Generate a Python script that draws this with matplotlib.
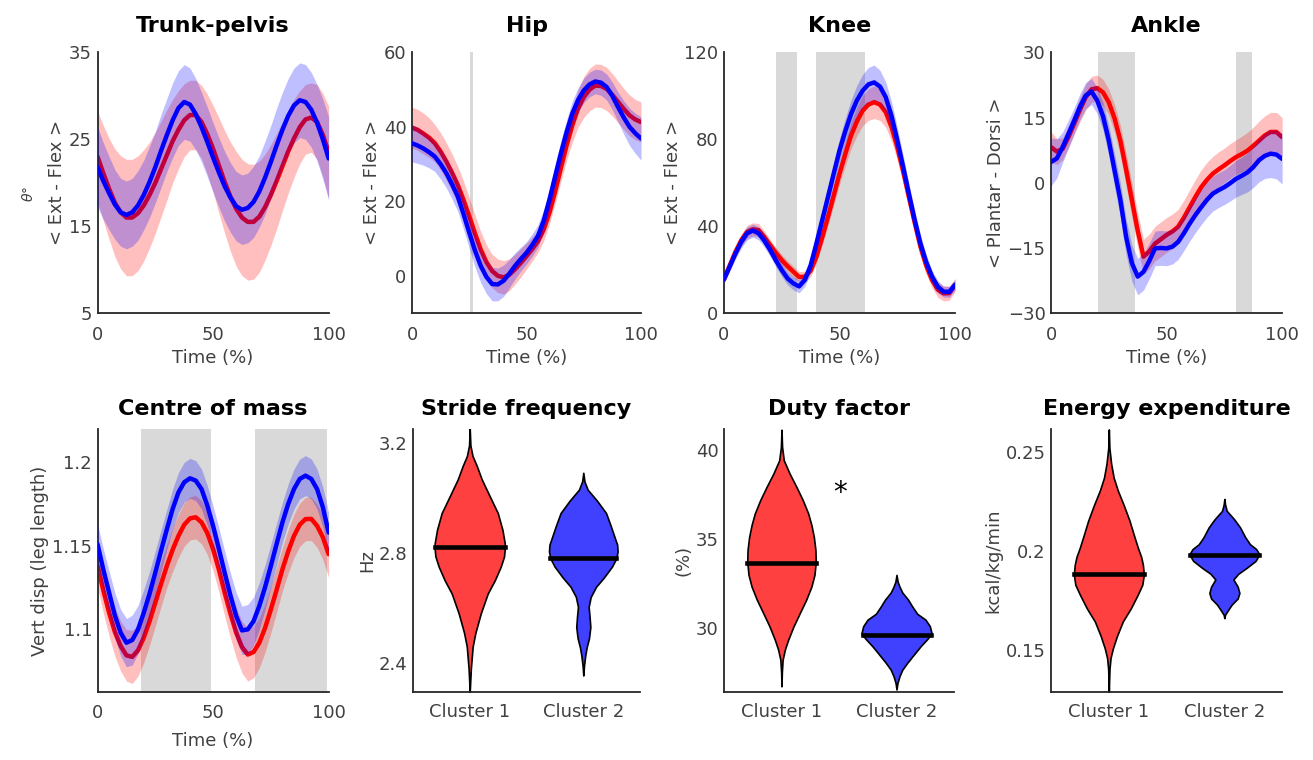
import numpy as np
import matplotlib.pyplot as plt

plt.rcParams['font.family'] = ['DejaVu Sans']

# ---------------- data ----------------
# % of stride, every 2.5 %
time = [0, 2.5, 5, 7.5, 10, 12.5, 15, 17.5, 20, 22.5, 25, 27.5, 30, 32.5, 35, 37.5, 40,
        42.5, 45, 47.5, 50, 52.5, 55, 57.5, 60, 62.5, 65, 67.5, 70, 72.5, 75, 77.5, 80,
        82.5, 85, 87.5, 90, 92.5, 95, 97.5, 100]

trunk_c1 = [23.0, 21.1, 19.3, 17.7, 16.6, 16.0, 16.0, 16.5, 17.4, 18.6, 20.0, 21.6, 23.2, 24.8,
            26.1, 27.2, 27.8, 27.8, 27.0, 25.6, 23.9, 22.0, 20.1, 18.4, 17.0, 16.0, 15.5, 15.5,
            16.1, 17.2, 18.6, 20.2, 21.9, 23.6, 25.1, 26.4, 27.3, 27.5, 27.0, 25.5, 23.5]
trunk_c1_sd = [5.2, 5.5, 5.8, 6.2, 6.5, 6.7, 6.7, 6.6, 6.4, 6.1, 5.8, 5.5, 5.2, 4.8, 4.5, 4.2,
               4.0, 4.0, 4.2, 4.6, 5.0, 5.5, 5.9, 6.3, 6.6, 6.7, 6.7, 6.6, 6.4, 6.1, 5.8, 5.5,
               5.1, 4.8, 4.5, 4.2, 4.0, 4.0, 4.3, 4.8, 5.3]
trunk_c2 = [21.8, 20.2, 18.8, 17.5, 16.6, 16.3, 16.6, 17.4, 18.6, 20.1, 21.8, 23.7, 25.5, 27.2,
            28.6, 29.3, 29.0, 27.9, 26.4, 24.7, 22.9, 21.2, 19.6, 18.3, 17.3, 16.9, 17.1, 17.8,
            19.0, 20.6, 22.4, 24.3, 26.1, 27.7, 28.9, 29.5, 29.3, 28.4, 26.9, 25.0, 22.8]
trunk_c2_sd = [4.6, 4.4, 4.2, 4.0, 3.9, 3.9, 3.9, 4.0, 4.0, 4.1, 4.1, 4.2, 4.2, 4.3, 4.3, 4.3,
               4.2, 4.1, 4.0, 4.0, 4.0, 4.0, 4.0, 4.0, 4.0, 4.0, 4.0, 4.1, 4.1, 4.2, 4.2, 4.3,
               4.3, 4.3, 4.3, 4.3, 4.3, 4.3, 4.4, 4.6, 4.8]

hip_c1 = [39.8, 39.2, 38.2, 37.1, 35.6, 33.4, 30.7, 27.7, 24.4, 20.4, 16.0, 11.4, 7.1, 3.7,
          1.3, 0.0, -0.4, 0.3, 1.8, 3.5, 5.3, 7.2, 9.3, 12.4, 16.9, 22.6, 28.9, 35.0, 40.4,
          44.9, 48.0, 50.0, 51.1, 51.0, 50.2, 48.6, 46.7, 44.8, 43.1, 42.0, 41.3]
hip_c1_sd = [5.5, 5.5, 5.5, 5.3, 5.0, 5.0, 5.0, 5.0, 5.0, 5.0, 5.0, 4.9, 4.8, 4.6, 4.5, 4.5,
             4.5, 4.3, 4.0, 3.8, 3.5, 3.2, 3.0, 3.0, 3.0, 3.2, 3.5, 4.0, 4.5, 5.0, 5.5, 5.7,
             5.8, 5.8, 5.8, 5.7, 5.6, 5.5, 5.5, 5.4, 5.4]
hip_c2 = [35.6, 35.0, 34.2, 33.2, 32.0, 30.0, 27.6, 24.6, 21.3, 16.6, 11.6, 6.8, 2.7, -0.3,
          -2.2, -2.3, -1.3, 0.6, 2.7, 4.5, 6.2, 8.3, 10.7, 14.8, 20.4, 26.7, 32.9, 38.6, 43.6,
          47.2, 49.8, 51.4, 52.2, 51.9, 50.7, 48.3, 45.3, 42.5, 40.0, 38.3, 36.9]
hip_c2_sd = [5.0, 4.8, 4.5, 4.2, 4.0, 4.0, 4.0, 4.0, 4.0, 4.1, 4.2, 4.4, 4.5, 4.5, 4.5, 4.4,
             4.2, 3.8, 3.5, 3.2, 3.0, 3.0, 3.0, 3.0, 3.0, 3.1, 3.2, 3.3, 3.3, 3.3, 3.3, 3.3,
             3.3, 3.4, 3.5, 3.7, 4.0, 4.5, 5.0, 5.4, 5.8]

knee_c1 = [15.6, 22.0, 28.3, 33.6, 37.4, 38.6, 38.2, 35.0, 31.3, 27.7, 24.4, 21.6, 19.1, 16.6,
           16.8, 19.5, 26.0, 34.8, 44.3, 54.2, 64.2, 73.3, 81.8, 88.2, 93.2, 96.0, 97.1, 96.0,
           92.5, 85.6, 76.4, 65.5, 53.5, 41.8, 30.6, 21.9, 15.3, 10.8, 9.1, 9.2, 13.0]
knee_c1_sd = [2.0, 2.2, 2.5, 2.8, 3.0, 3.0, 3.0, 2.8, 2.5, 2.5, 2.5, 2.5, 2.5, 2.5, 2.5, 2.8,
              3.0, 3.5, 4.0, 4.5, 5.0, 5.5, 6.0, 6.5, 7.0, 7.3, 7.5, 7.3, 7.0, 6.5, 6.0, 5.5,
              5.0, 4.5, 4.0, 3.8, 3.5, 3.5, 3.5, 3.3, 3.0]
knee_c2 = [15.6, 21.5, 27.5, 32.8, 36.7, 38.0, 36.7, 33.3, 29.0, 24.2, 19.8, 16.0, 13.7, 12.3,
           15.3, 22.0, 32.1, 42.8, 53.5, 64.3, 74.9, 83.8, 91.7, 97.9, 102.4, 105.3, 106.2,
           104.3, 99.4, 90.8, 79.5, 67.4, 55.0, 43.0, 32.1, 23.5, 16.8, 12.2, 9.9, 9.8, 13.0]
knee_c2_sd = [2.0, 2.2, 2.5, 2.8, 3.0, 3.0, 3.0, 3.0, 3.0, 3.0, 3.0, 3.0, 3.0, 3.0, 3.0, 3.2,
              3.5, 4.0, 4.5, 5.0, 5.5, 6.0, 6.5, 7.0, 7.5, 7.8, 8.0, 7.5, 7.0, 6.5, 6.0, 5.5,
              5.0, 4.5, 4.0, 3.5, 3.0, 2.8, 2.5, 2.5, 2.5]

ankle_c1 = [8.2, 7.2, 7.8, 10.5, 13.6, 16.8, 19.7, 21.5, 21.8, 20.8, 18.5, 14.8, 9.7, 3.0,
            -4.0, -11.0, -17.0, -15.8, -14.0, -13.0, -12.0, -11.2, -10.1, -8.0, -5.6, -3.2,
            -1.0, 0.7, 2.1, 3.1, 4.0, 5.0, 5.9, 6.6, 7.4, 8.5, 9.7, 10.9, 11.7, 11.7, 10.5]
ankle_c1_sd = [3.5, 3.0, 2.5, 2.5, 2.5, 2.8, 3.0, 3.0, 3.0, 3.0, 3.0, 3.2, 3.5, 3.8, 4.0, 4.0,
               4.0, 4.0, 4.0, 4.0, 4.0, 4.0, 4.0, 4.0, 4.0, 4.0, 4.0, 4.0, 4.0, 4.0, 4.0, 4.0,
               4.0, 4.1, 4.2, 4.3, 4.5, 4.5, 4.5, 4.5, 4.5]
ankle_c2 = [4.8, 5.6, 8.2, 11.2, 14.3, 17.5, 20.1, 21.0, 18.9, 15.3, 9.7, 2.8, -4.0, -12.5,
            -18.5, -21.6, -20.5, -18.0, -15.1, -15.0, -15.1, -14.7, -13.6, -11.6, -9.4, -7.4,
            -5.6, -3.9, -2.5, -1.7, -1.0, -0.1, 0.9, 1.6, 2.4, 3.6, 5.2, 6.2, 6.7, 6.5, 5.5]
ankle_c2_sd = [5.5, 4.5, 3.5, 3.2, 3.0, 3.0, 3.0, 3.0, 3.0, 3.2, 3.5, 3.8, 4.0, 4.1, 4.2, 4.2,
               4.2, 4.1, 4.0, 4.0, 4.0, 4.0, 4.0, 4.0, 4.0, 4.0, 4.0, 4.0, 4.0, 4.0, 4.0, 4.1,
               4.2, 4.3, 4.5, 4.7, 5.0, 5.2, 5.5, 5.6, 5.8]

com_c1 = [1.1378, 1.1230, 1.1096, 1.0980, 1.0896, 1.0840, 1.0831, 1.0870, 1.0946, 1.1045,
          1.1157, 1.1270, 1.1378, 1.1475, 1.1558, 1.1625, 1.1663, 1.1670, 1.1639, 1.1575,
          1.1478, 1.1355, 1.1217, 1.1090, 1.0976, 1.0890, 1.0845, 1.0860, 1.0916, 1.1005,
          1.1116, 1.1235, 1.1357, 1.1465, 1.1558, 1.1625, 1.1659, 1.1660, 1.1618, 1.1550, 1.1448]
com_c1_sd = [0.013, 0.0135, 0.014, 0.0145, 0.015, 0.0155, 0.016, 0.0155, 0.015, 0.0145,
             0.014, 0.0135, 0.013, 0.013, 0.013, 0.013, 0.013, 0.013, 0.013, 0.013,
             0.013, 0.0135, 0.014, 0.0145, 0.015, 0.0155, 0.016, 0.0155, 0.015, 0.0145,
             0.014, 0.0135, 0.013, 0.013, 0.013, 0.013, 0.013, 0.013, 0.013, 0.0135, 0.014]
com_c2 = [1.1508, 1.1355, 1.1217, 1.1080, 1.0976, 1.0916, 1.0932, 1.0995, 1.1096, 1.1210,
          1.1337, 1.1470, 1.1598, 1.1720, 1.1819, 1.1880, 1.1904, 1.1890, 1.1839, 1.1740,
          1.1618, 1.1480, 1.1337, 1.1200, 1.1076, 1.0990, 1.0996, 1.1045, 1.1137, 1.1250,
          1.1378, 1.1510, 1.1639, 1.1750, 1.1839, 1.1900, 1.1920, 1.1900, 1.1839, 1.1730, 1.1578]
com_c2_sd = [0.012, 0.0125, 0.013, 0.0135, 0.014, 0.0145, 0.015, 0.0145, 0.014, 0.0135,
             0.013, 0.0125, 0.012, 0.012, 0.012, 0.012, 0.012, 0.012, 0.012, 0.012,
             0.012, 0.0125, 0.013, 0.0135, 0.014, 0.0145, 0.015, 0.0145, 0.014, 0.0135,
             0.013, 0.0125, 0.012, 0.012, 0.012, 0.012, 0.012, 0.012, 0.012, 0.012, 0.012]

# shaded phases (% of stride)
hip_spans = [(25.5, 26.6)]
knee_spans = [(22.4, 31.7), (39.7, 61.0)]
ankle_spans = [(20.2, 36.2), (80.2, 87.0)]
com_spans = [(19.0, 49.0), (68.2, 99.3)]

# violin outlines: levels and half-widths, plus medians
clusters = ['Cluster 1', 'Cluster 2']

stride_c1_y = [2.294, 2.33, 2.38, 2.42, 2.46, 2.51, 2.58, 2.653, 2.70, 2.75, 2.787, 2.82,
               2.836, 2.884, 2.945, 3.006, 3.067, 3.116, 3.152, 3.19, 3.252]
stride_c1_w = [0.0, 0.004, 0.01, 0.018, 0.026, 0.05, 0.097, 0.159, 0.22, 0.273, 0.302, 0.31,
               0.308, 0.288, 0.247, 0.176, 0.106, 0.062, 0.025, 0.006, 0.0]
stride_c2_y = [2.355, 2.39, 2.43, 2.458, 2.49, 2.531, 2.57, 2.604, 2.64, 2.677, 2.71, 2.75,
               2.78, 2.805, 2.83, 2.86, 2.90, 2.945, 2.99, 3.03, 3.06, 3.091]
stride_c2_w = [0.0, 0.006, 0.018, 0.03, 0.05, 0.062, 0.055, 0.047, 0.065, 0.112, 0.18, 0.252,
               0.29, 0.302, 0.298, 0.273, 0.24, 0.2, 0.12, 0.038, 0.01, 0.0]
stride_med = [2.82, 2.781]

duty_c1_y = [26.72, 27.5, 28.22, 28.8, 29.34, 30.1, 30.84, 31.6, 32.33, 33.0, 33.74, 34.4,
             35.14, 35.8, 36.45, 37.2, 37.94, 38.7, 39.44, 40.2, 41.16]
duty_c1_w = [0.0, 0.003, 0.01, 0.03, 0.058, 0.105, 0.159, 0.215, 0.26, 0.287, 0.298, 0.295,
             0.281, 0.26, 0.232, 0.185, 0.13, 0.07, 0.02, 0.005, 0.0]
duty_c2_y = [26.54, 26.9, 27.29, 27.65, 28.04, 28.5, 28.97, 29.4, 29.7, 30.1, 30.47, 30.8,
             31.21, 31.6, 32.0, 32.33, 32.6, 32.99]
duty_c2_w = [0.0, 0.008, 0.026, 0.05, 0.093, 0.15, 0.209, 0.27, 0.305, 0.29, 0.252, 0.18,
             0.137, 0.10, 0.05, 0.026, 0.01, 0.0]
duty_med = [33.67, 29.62]

energy_c1_y = [0.1279, 0.134, 0.1406, 0.146, 0.1508, 0.157, 0.1644, 0.171, 0.178, 0.183,
               0.1881, 0.193, 0.197, 0.2017, 0.208, 0.2153, 0.223, 0.2305, 0.237, 0.2441,
               0.252, 0.2614]
energy_c1_w = [0.0, 0.002, 0.006, 0.015, 0.035, 0.07, 0.121, 0.19, 0.251, 0.29, 0.303, 0.295,
               0.28, 0.251, 0.217, 0.179, 0.13, 0.078, 0.042, 0.02, 0.005, 0.0]
energy_c2_y = [0.1661, 0.1678, 0.170, 0.1729, 0.176, 0.1788, 0.182, 0.1856, 0.1885, 0.1915,
               0.195, 0.1983, 0.201, 0.2034, 0.207, 0.2119, 0.216, 0.2203, 0.2235, 0.2263]
energy_c2_w = [0.0, 0.006, 0.03, 0.063, 0.115, 0.13, 0.115, 0.078, 0.12, 0.193, 0.27, 0.303,
               0.275, 0.222, 0.18, 0.136, 0.085, 0.02, 0.006, 0.0]
energy_med = [0.1885, 0.198]

# ---------------- styling ----------------
RED = '#ff0000'
BLUE = '#0000ff'
VRED = '#ff4040'
VBLUE = '#4040ff'
SPAN = '#d9d9d9'
TXT = '#404040'

fig = plt.figure(figsize=(13.13, 7.6), dpi=100)

cols = [(0.0743, 0.176), (0.3138, 0.1744), (0.5514, 0.176), (0.8005, 0.176)]
top_b, top_h = 0.588, 0.343
bot_b, bot_h = 0.0895, 0.346


def style(ax):
    for s in ['top', 'right']:
        ax.spines[s].set_visible(False)
    for s in ['left', 'bottom']:
        ax.spines[s].set_color('#262626')
        ax.spines[s].set_linewidth(1.3)
    ax.tick_params(length=0, labelsize=13, colors=TXT)
    ax.tick_params(axis='y', pad=4)
    ax.tick_params(axis='x', pad=9)


def curve_panel(ax, m1, s1, m2, s2, spans, title, ylim, yticks, ylabel,
                yticklabels=None, tpad=15, xlpad=4):
    for a, b in spans:
        ax.axvspan(a, b, color=SPAN, lw=0, zorder=0)
    m1, s1, m2, s2 = map(np.asarray, (m1, s1, m2, s2))
    ax.fill_between(time, m1 - s1, m1 + s1, color=RED, alpha=0.25, lw=0, zorder=1)
    ax.plot(time, m1, color=RED, lw=3.2, zorder=2, solid_capstyle='round', solid_joinstyle='round')
    ax.fill_between(time, m2 - s2, m2 + s2, color=BLUE, alpha=0.25, lw=0, zorder=3)
    ax.plot(time, m2, color=BLUE, lw=3.2, zorder=4, solid_capstyle='round', solid_joinstyle='round')
    ax.set_xlim(0, 100)
    ax.set_ylim(*ylim)
    ax.set_xticks([0, 50, 100])
    ax.set_yticks(yticks)
    if yticklabels is not None:
        ax.set_yticklabels(yticklabels)
    ax.set_title(title, fontsize=16, fontweight='bold', pad=tpad)
    ax.set_xlabel('Time (%)', fontsize=13, color=TXT, labelpad=xlpad)
    ax.set_ylabel(ylabel, fontsize=13, color=TXT, labelpad=2)
    style(ax)


def violin_panel(ax, outlines, meds, title, ylim, yticks, yticklabels, ylabel):
    for i, (ys, ws, col) in enumerate(outlines):
        pos = i + 1
        ys = np.asarray(ys)
        ws = np.asarray(ws)
        ax.fill_betweenx(ys, pos - ws, pos + ws, facecolor=col, edgecolor='black', lw=1.2,
                         joinstyle='round', zorder=2)
        wm = np.interp(meds[i], ys, ws)
        ax.plot([pos - wm, pos + wm], [meds[i], meds[i]], color='black', lw=3.3, zorder=3)
    ax.set_xlim(0.5, 2.5)
    ax.set_ylim(*ylim)
    ax.set_xticks([1, 2])
    ax.set_xticklabels(clusters)
    ax.set_yticks(yticks)
    ax.set_yticklabels(yticklabels)
    ax.set_title(title, fontsize=16, fontweight='bold', pad=10)
    ax.set_ylabel(ylabel, fontsize=13, color=TXT, labelpad=2)
    style(ax)
    ax.tick_params(axis='x', pad=8)


# top row
ax = fig.add_axes([cols[0][0], top_b, cols[0][1], top_h])
curve_panel(ax, trunk_c1, trunk_c1_sd, trunk_c2, trunk_c2_sd, [], 'Trunk-pelvis',
            (5, 35), [5, 15, 25, 35], '< Ext - Flex >')
fig.text(0.022, 0.745, r'$\theta$°', rotation=90, fontsize=10, color=TXT,
         ha='center', va='center', style='italic')

ax = fig.add_axes([cols[1][0], top_b, cols[1][1], top_h])
curve_panel(ax, hip_c1, hip_c1_sd, hip_c2, hip_c2_sd, hip_spans, 'Hip',
            (-10, 60), [0, 20, 40, 60], '< Ext - Flex >')

ax = fig.add_axes([cols[2][0], top_b, cols[2][1], top_h])
curve_panel(ax, knee_c1, knee_c1_sd, knee_c2, knee_c2_sd, knee_spans, 'Knee',
            (0, 120), [0, 40, 80, 120], '< Ext - Flex >')

ax = fig.add_axes([cols[3][0], top_b, cols[3][1], top_h])
curve_panel(ax, ankle_c1, ankle_c1_sd, ankle_c2, ankle_c2_sd, ankle_spans, 'Ankle',
            (-30, 30), [-30, -15, 0, 15, 30], '< Plantar - Dorsi >')

# bottom row
ax = fig.add_axes([cols[0][0], bot_b, cols[0][1], bot_h])
curve_panel(ax, com_c1, com_c1_sd, com_c2, com_c2_sd, com_spans, 'Centre of mass',
            (1.062, 1.22), [1.1, 1.15, 1.2], 'Vert disp (leg length)',
            yticklabels=['1.1', '1.15', '1.2'], tpad=10, xlpad=7)

ax = fig.add_axes([0.3145, bot_b, 0.173, bot_h])
violin_panel(ax, [(stride_c1_y, stride_c1_w, VRED), (stride_c2_y, stride_c2_w, VBLUE)],
             stride_med, 'Stride frequency', (2.295, 3.25), [2.4, 2.8, 3.2],
             ['2.4', '2.8', '3.2'], 'Hz')

ax = fig.add_axes([0.5514, bot_b, 0.1752, bot_h])
violin_panel(ax, [(duty_c1_y, duty_c1_w, VRED), (duty_c2_y, duty_c2_w, VBLUE)],
             duty_med, 'Duty factor', (26.4, 41.2), [30, 35, 40],
             ['30', '35', '40'], '(%)')
ax.text(1.51, 37.6, '*', fontsize=20, ha='center', va='center', color='black')

ax = fig.add_axes([cols[3][0], bot_b, cols[3][1], bot_h])
violin_panel(ax, [(energy_c1_y, energy_c1_w, VRED), (energy_c2_y, energy_c2_w, VBLUE)],
             energy_med, 'Energy expenditure', (0.1288, 0.2616), [0.15, 0.2, 0.25],
             ['0.15', '0.2', '0.25'], 'kcal/kg/min')

fig.savefig('out.png', dpi=100)
